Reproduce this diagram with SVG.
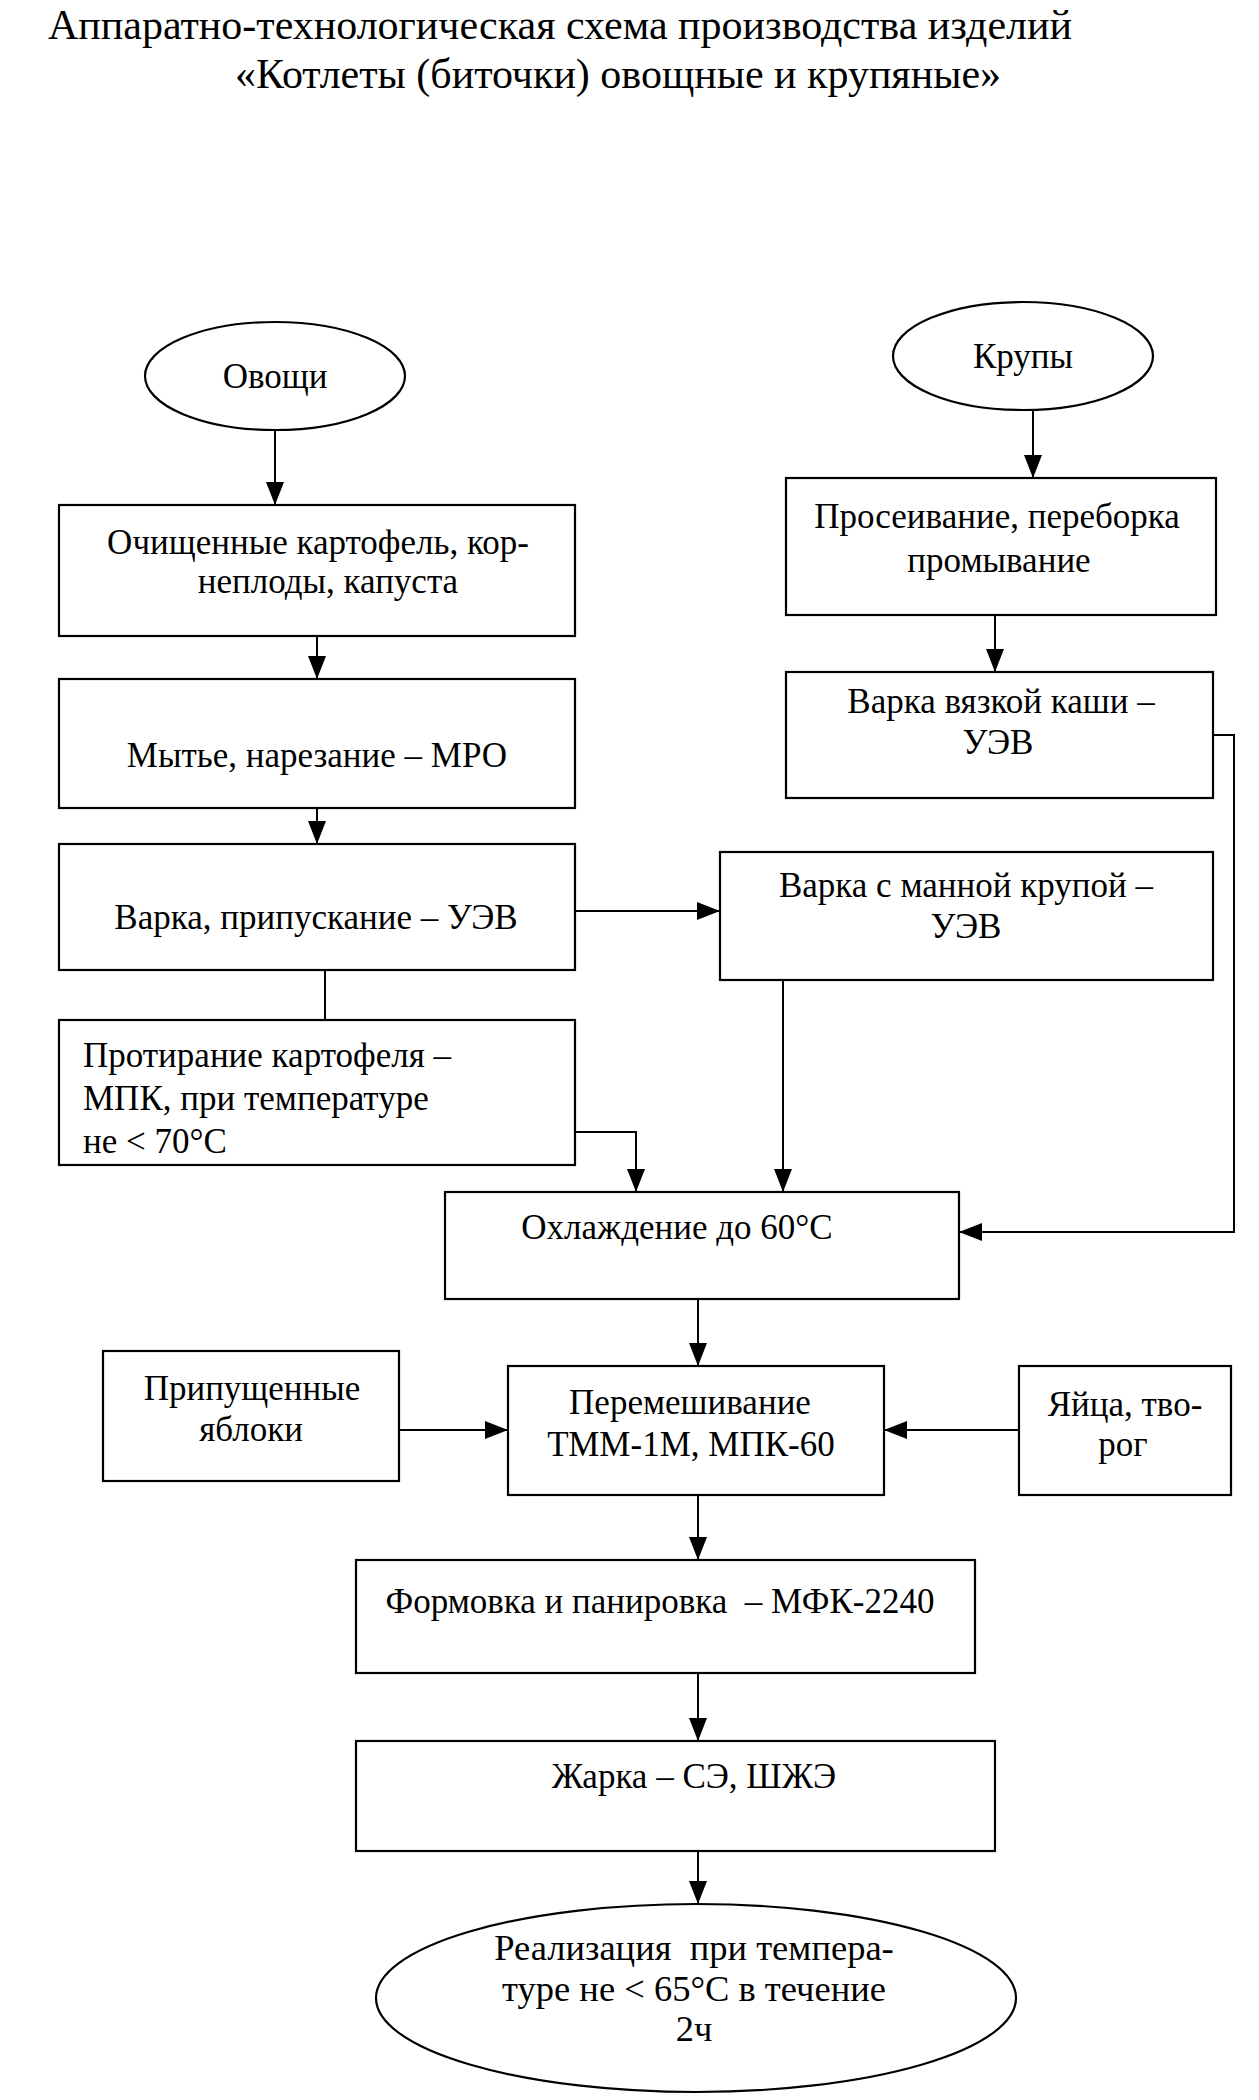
<svg xmlns="http://www.w3.org/2000/svg" width="1259" height="2100" viewBox="0 0 1259 2100">
<defs>
<style>
.t{font-family:"Liberation Serif","Times New Roman",serif;font-size:35px;fill:#000}
.m{text-anchor:middle}
.e{font-size:36.5px}
.ti{font-family:"Liberation Serif","Times New Roman",serif;font-size:42px;fill:#000;text-anchor:middle}
.n{fill:#fff;stroke:#000;stroke-width:2.2}
.c{fill:none;stroke:#000;stroke-width:2}
</style>
<marker id="ah" markerUnits="userSpaceOnUse" markerWidth="24" markerHeight="18" refX="23" refY="9" orient="auto">
<path d="M0,0 L23,9 L0,18 z" fill="#000"/>
</marker>
</defs>
<rect width="1259" height="2100" fill="#fff"/>
<g id="title">
<text class="ti" x="560" y="39">Аппаратно-технологическая схема производства изделий</text>
<text class="ti" x="618" y="88">«Котлеты (биточки) овощные и крупяные»</text>
</g>
<g id="connectors">
<line class="c" x1="275" y1="430" x2="275" y2="505" marker-end="url(#ah)"/>
<line class="c" x1="317" y1="636" x2="317" y2="679" marker-end="url(#ah)"/>
<line class="c" x1="317" y1="808" x2="317" y2="844" marker-end="url(#ah)"/>
<line class="c" x1="325" y1="970" x2="325" y2="1020"/>
<polyline class="c" points="575,1132 636,1132 636,1192" marker-end="url(#ah)"/>
<line class="c" x1="575" y1="911" x2="720" y2="911" marker-end="url(#ah)"/>
<line class="c" x1="783" y1="980" x2="783" y2="1192" marker-end="url(#ah)"/>
<line class="c" x1="1033" y1="411" x2="1033" y2="478" marker-end="url(#ah)"/>
<line class="c" x1="995" y1="615" x2="995" y2="672" marker-end="url(#ah)"/>
<polyline class="c" points="1213,735 1234,735 1234,1232 959,1232" marker-end="url(#ah)"/>
<line class="c" x1="698" y1="1299" x2="698" y2="1366" marker-end="url(#ah)"/>
<line class="c" x1="399" y1="1430" x2="508" y2="1430" marker-end="url(#ah)"/>
<line class="c" x1="1019" y1="1430" x2="884" y2="1430" marker-end="url(#ah)"/>
<line class="c" x1="698" y1="1495" x2="698" y2="1560" marker-end="url(#ah)"/>
<line class="c" x1="698" y1="1673" x2="698" y2="1741" marker-end="url(#ah)"/>
<line class="c" x1="698" y1="1851" x2="698" y2="1904" marker-end="url(#ah)"/>
</g>
<g id="n-ovoshchi">
<ellipse class="n" cx="275" cy="376" rx="130" ry="54"/>
<text class="t m" x="275" y="388">Овощи</text>
</g>
<g id="n-krupy">
<ellipse class="n" cx="1023" cy="356" rx="130" ry="54"/>
<text class="t m" x="1023" y="368">Крупы</text>
</g>
<g id="n-ochishch">
<rect class="n" x="59" y="505" width="516" height="131"/>
<text class="t m" x="318" y="554">Очищенные картофель, кор-</text>
<text class="t m" x="328" y="593">неплоды, капуста</text>
</g>
<g id="n-mytie">
<rect class="n" x="59" y="679" width="516" height="129"/>
<text class="t m" x="317" y="767">Мытье, нарезание – МРО</text>
</g>
<g id="n-varka">
<rect class="n" x="59" y="844" width="516" height="126"/>
<text class="t m" x="316" y="929">Варка, припускание – УЭВ</text>
</g>
<g id="n-protiranie">
<rect class="n" x="59" y="1020" width="516" height="145"/>
<text class="t" x="83" y="1067">Протирание картофеля –</text>
<text class="t" x="83" y="1110">МПК, при температуре</text>
<text class="t" x="83" y="1153">не &lt; 70°С</text>
</g>
<g id="n-varka-manna">
<rect class="n" x="720" y="852" width="493" height="128"/>
<text class="t m" x="966" y="897">Варка с манной крупой –</text>
<text class="t m" x="966" y="938">УЭВ</text>
</g>
<g id="n-proseivanie">
<rect class="n" x="786" y="478" width="430" height="137"/>
<text class="t m" x="997" y="528">Просеивание, переборка</text>
<text class="t m" x="999" y="572">промывание</text>
</g>
<g id="n-varka-kasha">
<rect class="n" x="786" y="672" width="427" height="126"/>
<text class="t m" x="1001" y="713">Варка вязкой каши –</text>
<text class="t m" x="998" y="754">УЭВ</text>
</g>
<g id="n-okhlazhdenie">
<rect class="n" x="445" y="1192" width="514" height="107"/>
<text class="t m" x="677" y="1239">Охлаждение до 60°С</text>
</g>
<g id="n-yabloki">
<rect class="n" x="103" y="1351" width="296" height="130"/>
<text class="t m" x="252" y="1400">Припущенные</text>
<text class="t m" x="251" y="1441">яблоки</text>
</g>
<g id="n-peremeshivanie">
<rect class="n" x="508" y="1366" width="376" height="129"/>
<text class="t m" x="690" y="1414">Перемешивание</text>
<text class="t m" x="691" y="1456">ТММ-1М, МПК-60</text>
</g>
<g id="n-yaitsa">
<rect class="n" x="1019" y="1366" width="212" height="129"/>
<text class="t m" x="1125" y="1416">Яйца, тво-</text>
<text class="t m" x="1123" y="1456">рог</text>
</g>
<g id="n-formovka">
<rect class="n" x="356" y="1560" width="619" height="113"/>
<text class="t m" x="660" y="1613" xml:space="preserve">Формовка и панировка  – МФК-2240</text>
</g>
<g id="n-zharka">
<rect class="n" x="356" y="1741" width="639" height="110"/>
<text class="t m" x="694" y="1788">Жарка – СЭ, ШЖЭ</text>
</g>
<g id="n-realizatsiya">
<ellipse class="n" cx="696" cy="1998" rx="320" ry="94"/>
<text class="t m e" x="694" y="1960" xml:space="preserve">Реализация  при темпера-</text>
<text class="t m e" x="694" y="2001">туре не &lt; 65°С в течение</text>
<text class="t m e" x="694" y="2041">2ч</text>
</g>
</svg>
